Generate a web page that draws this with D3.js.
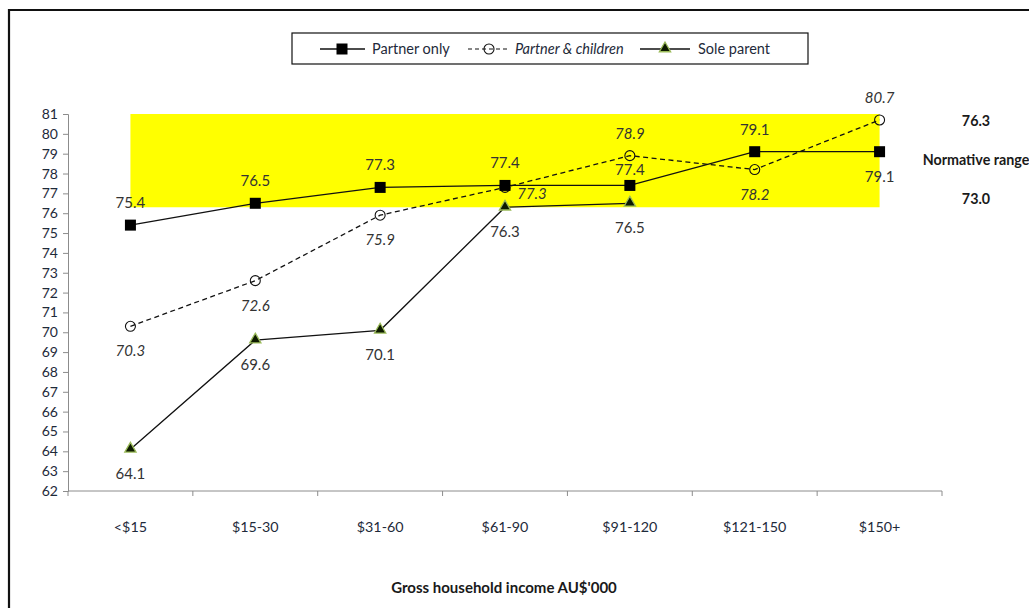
<!DOCTYPE html>
<html>
<head>
<meta charset="utf-8">
<script src="https://cdn.jsdelivr.net/npm/d3@7/dist/d3.min.js"></script>
<style>
  body { margin: 0; background: #fff; }
  svg text { font-family: Lato, "Open Sans", sans-serif; }
</style>
</head>
<body>
<script>
// data
var categories = ["<$15", "$15-30", "$31-60", "$61-90", "$91-120", "$121-150", "$150+"];
var partnerOnly = [75.4, 76.5, 77.3, 77.4, 77.4, 79.1, 79.1];
var partnerChildren = [70.3, 72.6, 75.9, 77.3, 78.9, 78.2, 80.7];
var soleParent = [64.1, 69.6, 70.1, 76.3, 76.5];
var yTicks = d3.range(62, 82, 1);
var normLow = 73.0, normHigh = 76.3; // printed range
var bandTop = 81, bandBottom = 76.3;   // yellow band as drawn

// label placement: "a" above, "b" below, "r" right-below
var poPos = ["a", "a", "a", "a", "a2", "a", "b"];
var pcPos = ["b", "b", "b", "r", "a", "b", "a"];
var spPos = ["b", "b", "b", "b", "b"];

var W = 1029, H = 608;
var svg = d3.select("body").append("svg").attr("width", W).attr("height", H);

// outer frame (only top and left visible)
svg.append("path").attr("d", "M9,700 L9,10 L1100,10")
  .attr("fill", "none").attr("stroke", "#111").attr("stroke-width", 2.2);

var x = d3.scaleBand().domain(categories).range([68, 942]);
var y = d3.scaleLinear().domain([62, 81]).range([491, 114]);
var cx = function (i) { return x(categories[i]) + x.bandwidth() / 2; };

// normative band
svg.append("rect")
  .attr("x", cx(0)).attr("width", cx(6) - cx(0))
  .attr("y", y(bandTop)).attr("height", y(bandBottom) - y(bandTop))
  .attr("fill", "#ffff00");

// y axis
var yAxis = svg.append("g").attr("transform", "translate(68,0)")
  .call(d3.axisLeft(y).tickValues(yTicks).tickSize(5).tickPadding(5).tickFormat(d3.format("d")));
yAxis.selectAll("path, line").attr("stroke", "#8c8c8c");
yAxis.selectAll("text").attr("font-size", 14).attr("fill", "#1e2a3a");

// x axis with ticks at band boundaries
var xAxisG = svg.append("g").attr("transform", "translate(0,491)");
xAxisG.append("line").attr("x1", 68).attr("x2", 942).attr("stroke", "#8c8c8c");
xAxisG.selectAll(".bt").data(d3.range(categories.length + 1)).enter().append("line")
  .attr("x1", function (i) { return 68 + i * x.bandwidth(); })
  .attr("x2", function (i) { return 68 + i * x.bandwidth(); })
  .attr("y1", 0).attr("y2", 5).attr("stroke", "#8c8c8c");
xAxisG.selectAll(".cl").data(categories).enter().append("text")
  .attr("x", function (d, i) { return cx(i); }).attr("y", 41)
  .attr("text-anchor", "middle").attr("font-size", 14.3).attr("fill", "#1e2a3a")
  .text(function (d) { return d; });

svg.append("text").attr("x", 504).attr("y", 593).attr("text-anchor", "middle")
  .attr("font-size", 15).attr("font-weight", "bold").attr("fill", "#1a1a1a")
  .text("Gross household income AU$'000");

// right side normative text
var rt = svg.append("g").attr("font-weight", "bold").attr("font-size", 14.3)
  .attr("fill", "#1a1a1a").attr("text-anchor", "middle");
rt.append("text").attr("x", 976).attr("y", 126).text(normHigh.toFixed(1));
rt.append("text").attr("x", 976).attr("y", 165).text("Normative range");
rt.append("text").attr("x", 976).attr("y", 204).text(normLow.toFixed(1));

var line = d3.line().x(function (d, i) { return cx(i); }).y(function (d) { return y(d); });

function drawSeries(vals, dash) {
  svg.append("path").datum(vals).attr("d", line).attr("fill", "none")
    .attr("stroke", "#111").attr("stroke-width", 1.3)
    .attr("stroke-dasharray", dash || null);
}
drawSeries(partnerChildren, "5,3.5");
drawSeries(partnerOnly);
drawSeries(soleParent);

function square(g, px, py) {
  g.append("rect").attr("x", px - 5.5).attr("y", py - 5.5).attr("width", 11).attr("height", 11).attr("fill", "#000");
}
function circle(g, px, py) {
  g.append("circle").attr("cx", px).attr("cy", py).attr("r", 5).attr("fill", "none")
    .attr("stroke", "#111").attr("stroke-width", 1.1);
}
function tri(g, px, py) {
  g.append("path").attr("d", d3.symbol().type(d3.symbolTriangle).size(55)())
    .attr("transform", "translate(" + px + "," + (py - 0.5) + ")")
    .attr("fill", "#0d1a00").attr("stroke", "#9bbb59").attr("stroke-width", 1.3);
}

var marks = svg.append("g");
partnerChildren.forEach(function (v, i) { circle(marks, cx(i), y(v)); });
partnerOnly.forEach(function (v, i) { square(marks, cx(i), y(v)); });
soleParent.forEach(function (v, i) { tri(marks, cx(i), y(v)); });

// data labels
var off = { a: [0, -17], a2: [0, -10], b: [0, 30], r: [27, 12] };
function labels(vals, pos, italic) {
  svg.append("g").selectAll("text").data(vals).enter().append("text")
    .attr("x", function (d, i) { return cx(i) + off[pos[i]][0]; })
    .attr("y", function (d, i) { return y(d) + off[pos[i]][1]; })
    .attr("text-anchor", "middle").attr("font-size", 15).attr("fill", "#333")
    .attr("font-style", italic ? "italic" : null)
    .text(function (d) { return d.toFixed(1); });
}
labels(partnerOnly, poPos);
labels(partnerChildren, pcPos, true);
labels(soleParent, spPos);

// legend
var lg = svg.append("g");
lg.append("rect").attr("x", 292).attr("y", 33).attr("width", 516).attr("height", 31)
  .attr("fill", "#fff").attr("stroke", "#111").attr("stroke-width", 1.2);
var ly = 49;
lg.append("line").attr("x1", 320).attr("x2", 365).attr("y1", ly).attr("y2", ly).attr("stroke", "#111").attr("stroke-width", 1.3);
square(lg, 342, ly);
lg.append("text").attr("x", 372).attr("y", ly + 5).attr("font-size", 14.5).attr("fill", "#1e2a3a").text("Partner only");
lg.append("line").attr("x1", 468).attr("x2", 510).attr("y1", ly).attr("y2", ly).attr("stroke", "#111")
  .attr("stroke-width", 1.1).attr("stroke-dasharray", "4,3");
circle(lg, 489, ly);
lg.append("text").attr("x", 515).attr("y", ly + 5).attr("font-size", 14.5).attr("font-style", "italic")
  .attr("fill", "#1e2a3a").text("Partner & children");
lg.append("line").attr("x1", 640).attr("x2", 690).attr("y1", ly).attr("y2", ly).attr("stroke", "#111").attr("stroke-width", 1.3);
tri(lg, 665, ly);
lg.append("text").attr("x", 698).attr("y", ly + 5).attr("font-size", 14.5).attr("fill", "#1e2a3a").text("Sole parent");
</script>
</body>
</html>
